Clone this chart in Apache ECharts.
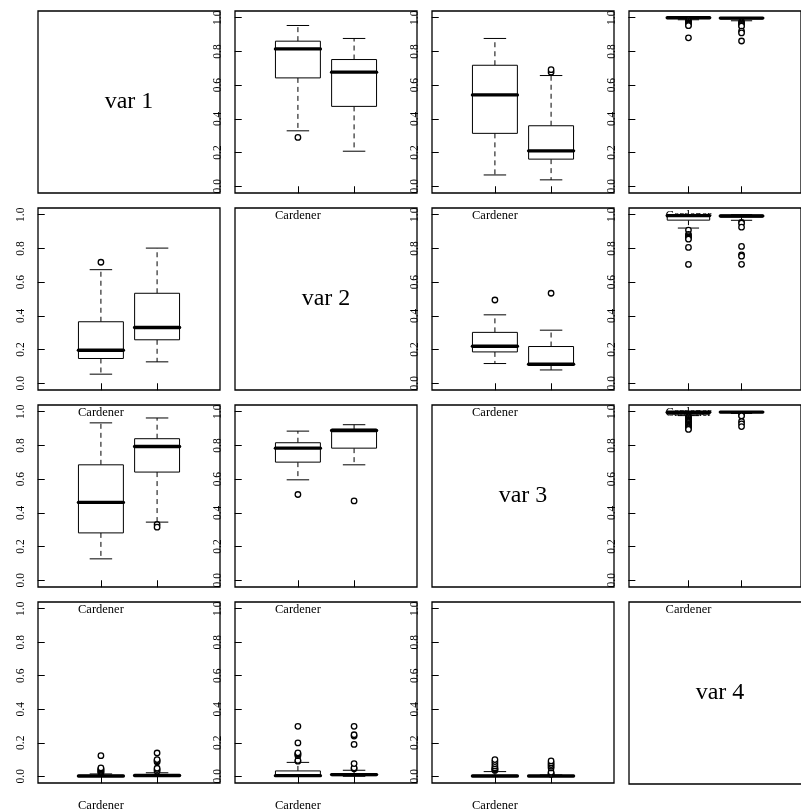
<!DOCTYPE html>
<html>
<head>
<meta charset="utf-8">
<script src="https://cdn.jsdelivr.net/npm/echarts@6/dist/echarts.min.js"></script>
<style>
  html, body { margin: 0; padding: 0; background: #fff; }
  #chart { width: 801px; height: 812px; }
</style>
</head>
<body>
<div id="chart"></div>
<script>
// Variable names shown on the diagonal
const varNames = ['var 1', 'var 2', 'var 3', 'var 4'];
// Group label under the first box
const groupLabels = ['Cardener'];
// Y tick values
const yTicks = [0, 0.2, 0.4, 0.6, 0.8, 1.0];

// Box summaries per panel: [lower whisker, Q1, median, Q3, upper whisker] for group 1 and group 2
const stats12 = [[0.329, 0.643, 0.815, 0.861, 0.954], [0.208, 0.474, 0.677, 0.752, 0.877]];
const out12 = [[0.29], []];
const stats13 = [[0.067, 0.314, 0.542, 0.718, 0.877], [0.038, 0.161, 0.21, 0.359, 0.657]];
const out13 = [[], [0.677, 0.692]];
const stats14 = [[0.988, 0.995, 1.0, 1.0, 1.0], [0.982, 0.993, 0.998, 1.0, 1.0]];
const out14 = [[0.983, 0.978, 0.973, 0.968, 0.963, 0.958, 0.953, 0.881],
               [0.975, 0.97, 0.965, 0.96, 0.955, 0.95, 0.92, 0.91, 0.862]];

const stats21 = [[0.054, 0.147, 0.196, 0.365, 0.674], [0.127, 0.258, 0.331, 0.534, 0.802]];
const out21 = [[0.718], []];
const stats23 = [[0.117, 0.186, 0.22, 0.302, 0.406], [0.079, 0.109, 0.113, 0.218, 0.315]];
const out23 = [[0.494], [0.534]];
const stats24 = [[0.921, 0.968, 0.995, 1.0, 1.0], [0.967, 0.985, 0.993, 0.998, 1.0]];
const out24 = [[0.909, 0.884, 0.876, 0.868, 0.862, 0.855, 0.806, 0.705],
               [0.955, 0.95, 0.926, 0.812, 0.762, 0.754, 0.706]];

const stats31 = [[0.127, 0.281, 0.462, 0.685, 0.934], [0.345, 0.642, 0.794, 0.84, 0.963]];
const out31 = [[], [0.331, 0.315]];
const stats32 = [[0.596, 0.701, 0.784, 0.816, 0.885], [0.685, 0.784, 0.889, 0.897, 0.923]];
const out32 = [[0.509], [0.471]];
const stats34 = [[0.977, 0.985, 0.997, 1.0, 1.0], [0.99, 0.995, 0.998, 1.0, 1.0]];
const out34 = [[0.97, 0.965, 0.96, 0.955, 0.95, 0.945, 0.94, 0.935, 0.93, 0.925, 0.92, 0.915, 0.91, 0.905, 0.9, 0.895],
               [0.98, 0.975, 0.942, 0.928, 0.912]];

const stats41 = [[0.0, 0.0, 0.002, 0.006, 0.014], [0.0, 0.002, 0.005, 0.01, 0.021]];
const out41 = [[0.02, 0.025, 0.03, 0.035, 0.04, 0.045, 0.05, 0.123],
               [0.03, 0.04, 0.048, 0.086, 0.093, 0.1, 0.139]];
const stats42 = [[0.0, 0.0, 0.004, 0.032, 0.083], [0.0, 0.004, 0.01, 0.016, 0.036]];
const out42 = [[0.09, 0.095, 0.123, 0.13, 0.135, 0.14, 0.199, 0.298],
               [0.045, 0.05, 0.076, 0.19, 0.24, 0.248, 0.298]];
const stats43 = [[0.0, 0.0, 0.002, 0.006, 0.028], [0.0, 0.0, 0.002, 0.004, 0.008]];
const out43 = [[0.035, 0.04, 0.045, 0.05, 0.062, 0.075, 0.088, 0.1],
               [0.012, 0.018, 0.024, 0.05, 0.06, 0.07, 0.08, 0.092]];

// Panel layout (pixels)
const FONT = "'Liberation Serif', 'DejaVu Serif', 'Times New Roman', serif";
const panelLeft = [38, 235, 432, 629];
const panelTop = [11, 208, 405, 602];
const panelSize = 182;

const panels = [
  { row: 0, col: 1, stats: stats12, out: out12 },
  { row: 0, col: 2, stats: stats13, out: out13 },
  { row: 0, col: 3, stats: stats14, out: out14 },
  { row: 1, col: 0, stats: stats21, out: out21 },
  { row: 1, col: 2, stats: stats23, out: out23 },
  { row: 1, col: 3, stats: stats24, out: out24 },
  { row: 2, col: 0, stats: stats31, out: out31 },
  { row: 2, col: 1, stats: stats32, out: out32 },
  { row: 2, col: 3, stats: stats34, out: out34 },
  { row: 3, col: 0, stats: stats41, out: out41 },
  { row: 3, col: 1, stats: stats42, out: out42 },
  { row: 3, col: 2, stats: stats43, out: out43 }
];

// Box-and-whisker glyph drawn through the panel's axes
function renderBox(params, api) {
  const x = api.value(0);
  const vals = [api.value(1), api.value(2), api.value(3), api.value(4), api.value(5)];
  const unit = api.size([1, 0])[0];
  const hb = unit * 0.4, hc = unit * 0.2;
  const pts = vals.map(v => api.coord([x, v]));
  const cx = pts[0][0];
  const [yLo, yQ1, yMed, yQ3, yHi] = pts.map(p => p[1]);
  const seg = (x1, y1, x2, y2, extra) => ({
    type: 'line',
    shape: { x1, y1, x2, y2 },
    style: Object.assign({ stroke: '#000', lineWidth: 1 }, extra || {})
  });
  return {
    type: 'group',
    children: [
      seg(cx, yQ3, cx, yHi, { lineDash: [5, 4] }),
      seg(cx, yQ1, cx, yLo, { lineDash: [5, 4] }),
      seg(cx - hc, yHi, cx + hc, yHi),
      seg(cx - hc, yLo, cx + hc, yLo),
      {
        type: 'rect',
        shape: { x: cx - hb, y: yQ3, width: 2 * hb, height: yQ1 - yQ3 },
        style: { fill: '#fff', stroke: '#000', lineWidth: 1 }
      },
      seg(cx - hb, yMed, cx + hb, yMed, { lineWidth: 3.4, lineCap: 'round' })
    ]
  };
}

const option = {
  animation: false,
  backgroundColor: '#fff',
  grid: [],
  xAxis: [],
  yAxis: [],
  series: [],
  graphic: []
};

panels.forEach((p, i) => {
  option.grid.push({
    left: panelLeft[p.col], top: panelTop[p.row],
    width: panelSize, height: panelSize,
    show: true, borderColor: '#000', borderWidth: 1.3,
    backgroundColor: 'transparent'
  });
  option.xAxis.push({
    gridIndex: i, type: 'value', min: -0.12, max: 3.12, z: 0,
    axisLine: { show: false }, splitLine: { show: false },
    axisTick: { show: true, length: 7, customValues: [1, 2], lineStyle: { color: '#000', width: 1 } },
    axisLabel: {
      show: true, customValues: groupLabels.map((_, k) => k + 1),
      formatter: v => groupLabels[Math.round(v) - 1] || '',
      margin: 16, color: '#000', fontFamily: FONT, fontSize: 12.5
    }
  });
  option.yAxis.push({
    gridIndex: i, type: 'value', min: -0.04, max: 1.04, z: 0,
    axisLine: { show: false }, splitLine: { show: false },
    axisTick: { show: true, length: 7, customValues: yTicks, lineStyle: { color: '#000', width: 1 } },
    axisLabel: {
      show: true, customValues: yTicks, rotate: 90, margin: 11,
      formatter: v => v.toFixed(1), color: '#000', fontFamily: FONT, fontSize: 11.5
    }
  });
  option.series.push({
    type: 'custom', xAxisIndex: i, yAxisIndex: i, z: 5,
    renderItem: renderBox,
    data: p.stats.map((s, g) => [g + 1].concat(s))
  });
  const pts = [];
  p.out.forEach((vals, g) => vals.forEach(v => pts.push([g + 1, v])));
  option.series.push({
    type: 'scatter', xAxisIndex: i, yAxisIndex: i, z: 6,
    symbol: 'circle', symbolSize: 5.5,
    itemStyle: { color: '#fff', borderColor: '#000', borderWidth: 1.3, opacity: 1 },
    data: pts
  });
});

// Diagonal panels: frame and variable name
varNames.forEach((name, k) => {
  const x = panelLeft[k], y = panelTop[k];
  option.graphic.push({
    type: 'rect',
    shape: { x: x, y: y, width: panelSize, height: panelSize },
    style: { fill: 'none', stroke: '#000', lineWidth: 1.3 },
    z: 1
  });
  option.graphic.push({
    type: 'text',
    x: x + panelSize / 2, y: y + panelSize / 2,
    style: {
      text: name, fill: '#000', fontFamily: FONT, fontSize: 24,
      align: 'center', verticalAlign: 'middle',
      textAlign: 'center', textVerticalAlign: 'middle'
    },
    z: 1
  });
});

const chart = echarts.init(document.getElementById('chart'), null, { renderer: 'canvas' });
chart.setOption(option);
</script>
</body>
</html>
